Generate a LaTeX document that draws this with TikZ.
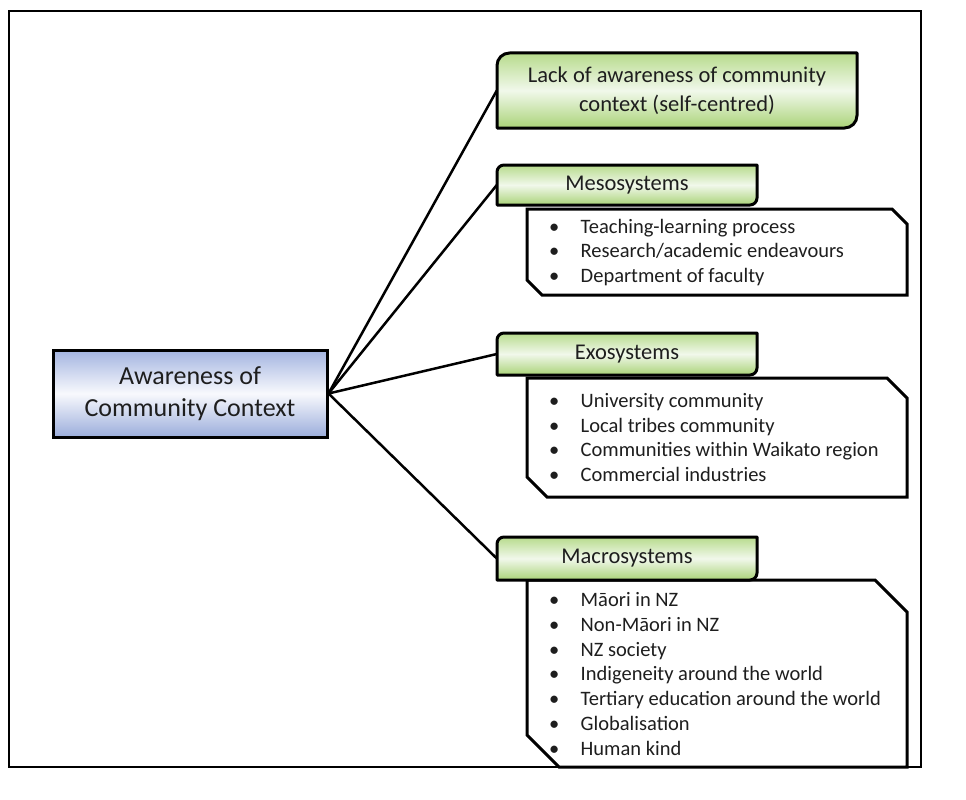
\documentclass[tikz,border=0pt]{standalone}
\usepackage{fontspec}
\setmainfont{Carlito}
\definecolor{txt}{RGB}{30,30,30}
\definecolor{leaftop}{RGB}{183,219,140}
\definecolor{leafmid}{RGB}{241,248,235}
\definecolor{leafbot}{RGB}{170,211,120}
\definecolor{coretop}{RGB}{163,180,224}
\definecolor{coremid}{RGB}{248,249,253}
\definecolor{corebot}{RGB}{155,173,219}

% header shape: rounded top-left and bottom-right corners (x1,y1,x2,y2,r)
\newcommand\leafshape[5]{%
  \path[leaffill] (#1,#4) -- (#1,#2+#5) arc[start angle=180,end angle=270,radius=#5]
    -- (#3,#2) -- (#3,#4-#5) arc[start angle=0,end angle=90,radius=#5] -- cycle;}
% list panel: snipped top-right and bottom-left corners (x1,y1,x2,y2,s)
\newcommand\listshape[5]{%
  \path[listfill] (#1,#2) -- (#3-#5,#2) -- (#3,#2+#5) -- (#3,#4)
    -- (#1+#5,#4) -- (#1,#4-#5) -- cycle;}
\newcommand\itm[1]{\makebox[31.5pt][l]{\textbullet}#1}

\begin{document}
\begin{tikzpicture}[x=1pt,y=-1pt,
  every node/.style={inner sep=0pt,text=txt},
  frame/.style={draw=black,line width=2pt},
  link/.style={draw=black,line width=2.5pt},
  leaffill/.style={draw=black,line width=3pt,line join=round,
    top color=leaftop,bottom color=leafbot,middle color=leafmid},
  listfill/.style={draw=black,line width=3pt,fill=white},
  corebox/.style={draw=black,line width=3pt,
    top color=coretop,bottom color=corebot,middle color=coremid,
    minimum width=274pt,minimum height=87pt,align=center,
    font=\fontsize{26}{32}\selectfont},
  leafnode/.style={align=center,font=\fontsize{22.5}{29}\selectfont},
  listnode/.style={anchor=west,align=left,font=\fontsize{20.5}{24.7}\selectfont}]

\useasboundingbox (0,0) rectangle (966,800);
\draw[frame] (9,11) rectangle (921,767);

% central node
\node[corebox] (core) at (190,393.5) {Awareness of\\Community Context};

% list panels
\listshape{527}{209}{907}{295}{15}
\listshape{527}{378}{907}{497}{20}
\listshape{527}{580}{907}{767}{32}

% header shapes
\leafshape{497}{53}{857}{128}{12.5}
\leafshape{497}{165}{757}{205}{7}
\leafshape{497}{333}{757}{375}{7}
\leafshape{497}{537}{757}{580}{7}

\node[leafnode,minimum width=360pt,minimum height=75pt] (lack) at (677,90.5)
  {Lack of awareness of community\\context (self-centred)};
\node[leafnode,minimum width=260pt,minimum height=40pt] (meso) at (627,185) {Mesosystems};
\node[leafnode,minimum width=260pt,minimum height=42pt] (exo) at (627,354) {Exosystems};
\node[leafnode,minimum width=260pt,minimum height=43pt] (macro) at (627,558.5) {Macrosystems};

\node[listnode] (mesolist) at (549,252.5) {%
  \itm{Teaching-learning process}\\
  \itm{Research/academic endeavours}\\
  \itm{Department of faculty}};
\node[listnode] (exolist) at (549,437.5) {%
  \itm{University community}\\
  \itm{Local tribes community}\\
  \itm{Communities within Waikato region}\\
  \itm{Commercial industries}};
\node[listnode] (macrolist) at (549,674) {%
  \itm{Māori in NZ}\\
  \itm{Non-Māori in NZ}\\
  \itm{NZ society}\\
  \itm{Indigeneity around the world}\\
  \itm{Tertiary education around the world}\\
  \itm{Globalisation}\\
  \itm{Human kind}};

% connectors
\draw[link] (core.east) -- (lack.west);
\draw[link] (core.east) -- (meso.west);
\draw[link] (core.east) -- (exo.west);
\draw[link] (core.east) -- (macro.west);
\end{tikzpicture}
\end{document}
